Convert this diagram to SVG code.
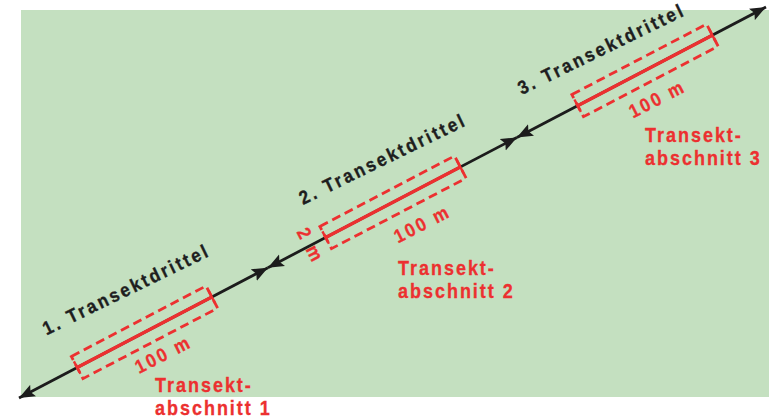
<svg xmlns="http://www.w3.org/2000/svg" width="771" height="418" viewBox="0 0 771 418">
  <style>
    .ground { fill: #c4e0c0; }
    .axis { fill: none; stroke: #1c1c1c; stroke-width: 2.8; }
    .seg { fill: none; stroke: #ec3030; stroke-width: 3.4; }
    .tick { fill: none; stroke: #ec3030; stroke-width: 2.4; }
    .strip { fill: none; stroke: #ec3030; stroke-width: 2.8; stroke-dasharray: 9 5; }
    .third { font-family: "Liberation Sans", Arial, sans-serif; font-weight: bold; font-size: 19px; letter-spacing: 2.9px; fill: #1e1e1e; stroke: #1e1e1e; stroke-width: 0.35; }
    .dim { font-family: "Liberation Sans", Arial, sans-serif; font-weight: bold; font-size: 19px; letter-spacing: 2.8px; fill: #ec3030; stroke: #ec3030; stroke-width: 0.3; }
    .name { font-family: "Liberation Sans", Arial, sans-serif; font-weight: bold; font-size: 20px; letter-spacing: 2.2px; fill: #ec3030; stroke: #ec3030; stroke-width: 0.3; }
  </style>
  <defs>
    <marker id="head" viewBox="0 -7 16 14" refX="16" refY="0" markerWidth="16" markerHeight="14" markerUnits="userSpaceOnUse" orient="auto-start-reverse">
      <path d="M0,-6.5 L16,0 L0,6.5 L3,0 Z" fill="#1c1c1c"/>
    </marker>
  </defs>

  <rect class="ground" x="21" y="10" width="748" height="387"/>

  <!-- transect line, split into three thirds with arrowheads at both ends -->
  <g id="connectors">
    <path class="axis" d="M19,398 L267.9,267.7" marker-start="url(#head)" marker-end="url(#head)"/>
    <path class="axis" d="M267.9,267.7 L516.9,137.4" marker-start="url(#head)" marker-end="url(#head)"/>
    <path class="axis" d="M516.9,137.4 L766,7" marker-start="url(#head)" marker-end="url(#head)"/>
  </g>

  <!-- section 1 -->
  <g id="section-1">
    <g transform="translate(144.5,332.3) rotate(-27.63)">
      <rect class="strip" x="-76" y="-12.5" width="152" height="25"/>
      <line class="seg" x1="-76" y1="0" x2="76" y2="0"/>
      <line class="tick" x1="-76" y1="-7" x2="-76" y2="7"/>
      <line class="tick" x1="76" y1="-7" x2="76" y2="7"/>
    </g>
    <text class="third" transform="translate(46.5,335.5) rotate(-26) scale(0.9,1)">1. Transektdrittel</text>
    <text class="dim" transform="translate(139,374) rotate(-27) scale(0.9,1)">100 m</text>
    <text class="name" transform="translate(155,391.5) scale(0.9,1)">Transekt-</text>
    <text class="name" transform="translate(155,414.5) scale(0.9,1)">abschnitt 1</text>
  </g>

  <!-- section 2 -->
  <g id="section-2">
    <g transform="translate(393,202.3) rotate(-27.63)">
      <rect class="strip" x="-76" y="-12.5" width="152" height="25"/>
      <line class="seg" x1="-76" y1="0" x2="76" y2="0"/>
      <line class="tick" x1="-76" y1="-7" x2="-76" y2="7"/>
      <line class="tick" x1="76" y1="-7" x2="76" y2="7"/>
      <text class="dim" transform="translate(-93,0) rotate(90) scale(0.9,1)" y="6.5" text-anchor="middle">2 m</text>
    </g>
    <text class="third" transform="translate(303,205) rotate(-26) scale(0.9,1)">2. Transektdrittel</text>
    <text class="dim" transform="translate(398,243.5) rotate(-27) scale(0.9,1)">100 m</text>
    <text class="name" transform="translate(398,275) scale(0.9,1)">Transekt-</text>
    <text class="name" transform="translate(398,298) scale(0.9,1)">abschnitt 2</text>
  </g>

  <!-- section 3 -->
  <g id="section-3">
    <g transform="translate(645,70.4) rotate(-27.63)">
      <rect class="strip" x="-76" y="-12.5" width="152" height="25"/>
      <line class="seg" x1="-76" y1="0" x2="76" y2="0"/>
      <line class="tick" x1="-76" y1="-7" x2="-76" y2="7"/>
      <line class="tick" x1="76" y1="-7" x2="76" y2="7"/>
    </g>
    <text class="third" transform="translate(521.7,95) rotate(-26) scale(0.9,1)">3. Transektdrittel</text>
    <text class="dim" transform="translate(633,118.5) rotate(-27) scale(0.9,1)">100 m</text>
    <text class="name" transform="translate(645,141.5) scale(0.9,1)">Transekt-</text>
    <text class="name" transform="translate(645,164.5) scale(0.9,1)">abschnitt 3</text>
  </g>
</svg>
